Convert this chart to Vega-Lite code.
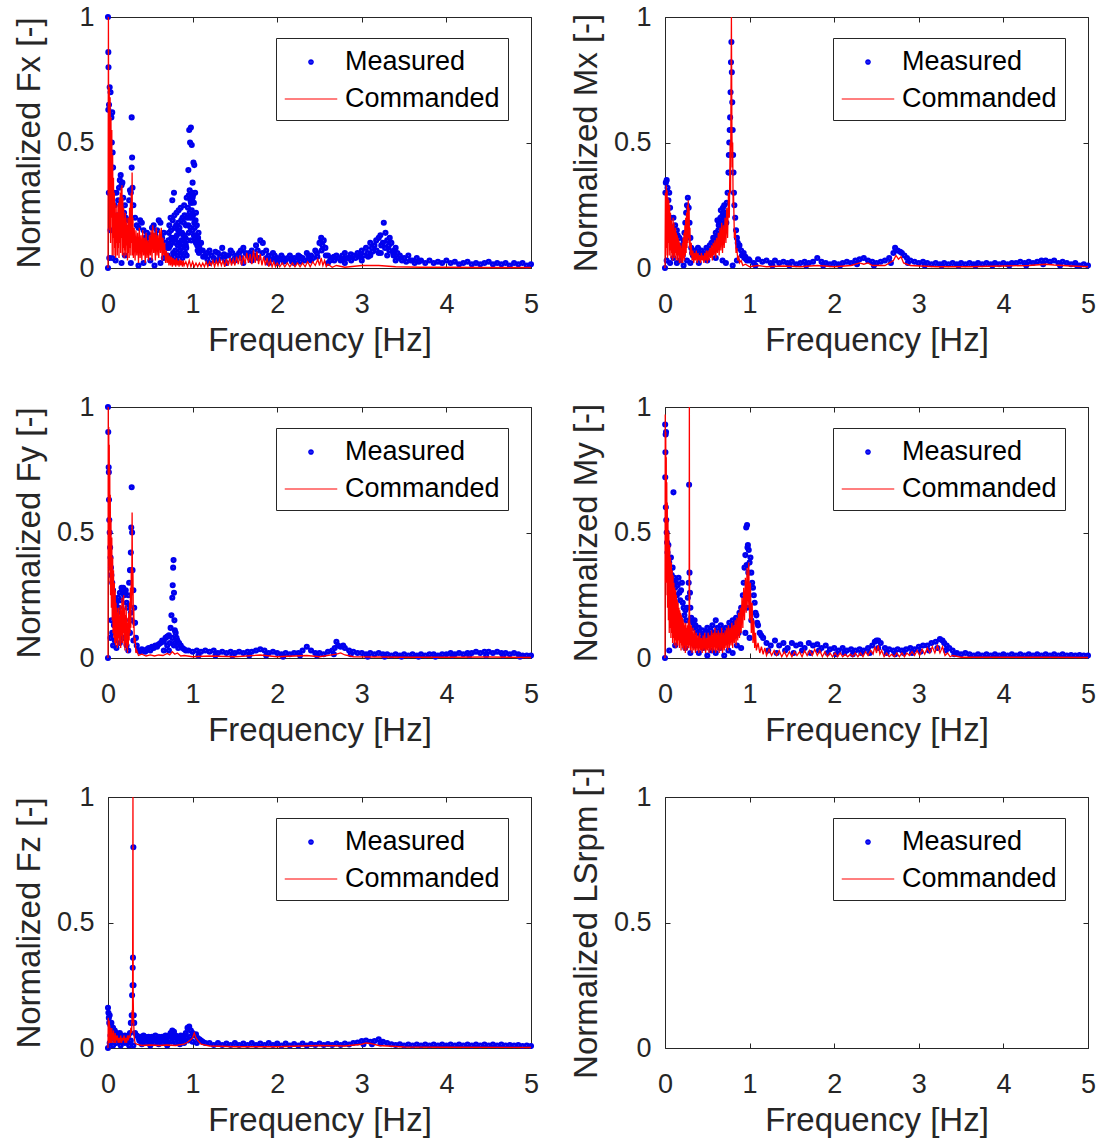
{
"$schema": "https://vega.github.io/schema/vega-lite/v6.json",
"background": "#ffffff",
"padding": {"left": 12, "top": 2, "right": 4, "bottom": 4},
"columns": 2,
"spacing": {"row": 139, "column": 134},
"bounds": "flush",
"resolve": {"scale": {"color": "independent", "shape": "independent"}, "legend": {"color": "independent", "shape": "independent"}},
"config": {
  "font": "Liberation Sans",
  "view": {"stroke": "#262626", "strokeWidth": 1},
  "axis": {"grid": false, "domain": false, "ticks": true, "tickSize": -5, "tickColor": "#262626", "tickWidth": 1, "labelColor": "#262626", "titleColor": "#262626", "labelFont": "Liberation Sans", "titleFont": "Liberation Sans", "labelFontSize": 27, "titleFontSize": 33, "titleFontWeight": "normal", "labelFlush": false, "labelOverlap": false},
  "axisX": {"labelPadding": 28, "titlePadding": 7, "tickCount": 5},
  "axisY": {"labelPadding": 19, "titlePadding": 10, "tickCount": 2},
  "legend": {"orient": "none", "legendX": 168, "legendY": 21, "padding": 8, "strokeColor": "#262626", "fillColor": "#ffffff", "symbolOffset": 11, "labelOffset": 18, "rowPadding": 8, "symbolSize": 900, "symbolStrokeWidth": 1.2, "symbolOpacity": 1, "labelFont": "Liberation Sans", "labelFontSize": 27, "labelColor": "#000000", "labelLimit": 400, "cornerRadius": 0}
},
"datasets": {
"fxm": [{"f":0,"v":0},{"f":0,"v":1},{"f":0.004,"v":0.86},{"f":0.006,"v":0.8},{"f":0.004,"v":0.63},{"f":0.012,"v":0.65},{"f":0.02,"v":0.72},{"f":0.03,"v":0.7},{"f":0.04,"v":0.6},{"f":0.05,"v":0.62},{"f":0.045,"v":0.5},{"f":0.055,"v":0.46},{"f":0.06,"v":0.4},{"f":0.01,"v":0.3},{"f":0.015,"v":0.04},{"f":0.03,"v":0.15},{"f":0.07,"v":0.3},{"f":0.08,"v":0.25},{"f":0.09,"v":0.18},{"f":0.1,"v":0.3},{"f":0.11,"v":0.21},{"f":0.12,"v":0.27},{"f":0.13,"v":0.32},{"f":0.14,"v":0.35},{"f":0.15,"v":0.37},{"f":0.16,"v":0.33},{"f":0.17,"v":0.34},{"f":0.18,"v":0.28},{"f":0.19,"v":0.22},{"f":0.2,"v":0.25},{"f":0.21,"v":0.2},{"f":0.22,"v":0.16},{"f":0.23,"v":0.14},{"f":0.24,"v":0.19},{"f":0.25,"v":0.27},{"f":0.26,"v":0.31},{"f":0.27,"v":0.3},{"f":0.28,"v":0.6},{"f":0.285,"v":0.44},{"f":0.28,"v":0.4},{"f":0.29,"v":0.32},{"f":0.3,"v":0.25},{"f":0.05,"v":0.04},{"f":0.09,"v":0.03},{"f":0.16,"v":0.02},{"f":0.2,"v":0.05},{"f":0.27,"v":0.02},{"f":0.32,"v":0.2},{"f":0.34,"v":0.17},{"f":0.36,"v":0.16},{"f":0.38,"v":0.19},{"f":0.4,"v":0.18},{"f":0.42,"v":0.15},{"f":0.44,"v":0.12},{"f":0.46,"v":0.14},{"f":0.48,"v":0.11},{"f":0.5,"v":0.13},{"f":0.52,"v":0.16},{"f":0.54,"v":0.17},{"f":0.56,"v":0.13},{"f":0.58,"v":0.15},{"f":0.6,"v":0.19},{"f":0.62,"v":0.18},{"f":0.64,"v":0.12},{"f":0.66,"v":0.14},{"f":0.68,"v":0.1},{"f":0.36,"v":0.01},{"f":0.42,"v":0.02},{"f":0.5,"v":0.03},{"f":0.55,"v":0.01},{"f":0.62,"v":0.02},{"f":0.66,"v":0.04},{"f":0.7,"v":0.08},{"f":0.72,"v":0.14},{"f":0.74,"v":0.2},{"f":0.75,"v":0.1},{"f":0.76,"v":0.27},{"f":0.77,"v":0.06},{"f":0.78,"v":0.3},{"f":0.79,"v":0.16},{"f":0.8,"v":0.12},{"f":0.81,"v":0.22},{"f":0.82,"v":0.05},{"f":0.83,"v":0.18},{"f":0.84,"v":0.1},{"f":0.85,"v":0.14},{"f":0.86,"v":0.24},{"f":0.87,"v":0.08},{"f":0.88,"v":0.2},{"f":0.89,"v":0.13},{"f":0.9,"v":0.25},{"f":0.91,"v":0.06},{"f":0.92,"v":0.17},{"f":0.93,"v":0.28},{"f":0.94,"v":0.11},{"f":0.95,"v":0.39},{"f":0.955,"v":0.29},{"f":0.96,"v":0.55},{"f":0.965,"v":0.22},{"f":0.97,"v":0.5},{"f":0.975,"v":0.16},{"f":0.98,"v":0.56},{"f":0.985,"v":0.26},{"f":0.99,"v":0.49},{"f":0.995,"v":0.2},{"f":1,"v":0.34},{"f":1.005,"v":0.29},{"f":1.01,"v":0.42},{"f":1.015,"v":0.13},{"f":1.02,"v":0.41},{"f":1.03,"v":0.3},{"f":1.04,"v":0.22},{"f":1.05,"v":0.17},{"f":1.06,"v":0.11},{"f":1.07,"v":0.14},{"f":1.08,"v":0.08},{"f":1.1,"v":0.1},{"f":1.12,"v":0.07},{"f":0.72,"v":0.08},{"f":0.75,"v":0.12},{"f":0.78,"v":0.06},{"f":0.8,"v":0.1},{"f":0.83,"v":0.15},{"f":0.85,"v":0.07},{"f":0.87,"v":0.11},{"f":0.9,"v":0.13},{"f":0.92,"v":0.09},{"f":0.95,"v":0.17},{"f":0.97,"v":0.2},{"f":0.99,"v":0.23},{"f":1,"v":0.15},{"f":1.02,"v":0.18},{"f":1.04,"v":0.1},{"f":1.06,"v":0.07},{"f":0.93,"v":0.05},{"f":0.88,"v":0.04},{"f":0.81,"v":0.03},{"f":1,"v":0.28},{"f":0.98,"v":0.26},{"f":1.03,"v":0.12},{"f":0.705,"v":0.05},{"f":0.715,"v":0.11},{"f":0.725,"v":0.17},{"f":0.735,"v":0.09},{"f":0.745,"v":0.15},{"f":0.755,"v":0.04},{"f":0.765,"v":0.19},{"f":0.775,"v":0.12},{"f":0.785,"v":0.21},{"f":0.795,"v":0.07},{"f":0.805,"v":0.17},{"f":0.815,"v":0.13},{"f":0.825,"v":0.09},{"f":0.835,"v":0.23},{"f":0.845,"v":0.16},{"f":0.855,"v":0.05},{"f":0.865,"v":0.19},{"f":0.875,"v":0.14},{"f":0.885,"v":0.1},{"f":0.895,"v":0.18},{"f":0.905,"v":0.21},{"f":0.915,"v":0.12},{"f":0.925,"v":0.08},{"f":0.935,"v":0.2},{"f":0.945,"v":0.24},{"f":0.955,"v":0.14},{"f":0.965,"v":0.31},{"f":0.975,"v":0.27},{"f":0.985,"v":0.11},{"f":0.995,"v":0.3},{"f":1.005,"v":0.21},{"f":1.015,"v":0.26},{"f":1.025,"v":0.16},{"f":1.035,"v":0.19},{"f":1.045,"v":0.13},{"f":1.055,"v":0.09},{"f":1.065,"v":0.12},{"f":1.075,"v":0.06},{"f":1.085,"v":0.1},{"f":1.095,"v":0.07},{"f":1.15,"v":0.05},{"f":1.2,"v":0.07},{"f":1.25,"v":0.04},{"f":1.3,"v":0.06},{"f":1.35,"v":0.08},{"f":1.4,"v":0.05},{"f":1.45,"v":0.07},{"f":1.5,"v":0.04},{"f":1.55,"v":0.06},{"f":1.6,"v":0.08},{"f":1.65,"v":0.05},{"f":1.7,"v":0.07},{"f":1.75,"v":0.09},{"f":1.8,"v":0.11},{"f":1.83,"v":0.1},{"f":1.87,"v":0.07},{"f":1.9,"v":0.05},{"f":1.95,"v":0.06},{"f":2,"v":0.04},{"f":2.05,"v":0.05},{"f":2.1,"v":0.03},{"f":2.15,"v":0.05},{"f":2.2,"v":0.04},{"f":2.25,"v":0.05},{"f":2.3,"v":0.04},{"f":2.35,"v":0.06},{"f":2.4,"v":0.05},{"f":2.45,"v":0.07},{"f":2.5,"v":0.1},{"f":2.52,"v":0.12},{"f":2.55,"v":0.11},{"f":2.57,"v":0.08},{"f":2.6,"v":0.05},{"f":2.65,"v":0.04},{"f":2.7,"v":0.05},{"f":2.75,"v":0.03},{"f":2.8,"v":0.06},{"f":2.85,"v":0.04},{"f":2.9,"v":0.05},{"f":2.95,"v":0.06},{"f":3,"v":0.07},{"f":3.05,"v":0.08},{"f":3.1,"v":0.1},{"f":3.15,"v":0.09},{"f":3.2,"v":0.12},{"f":3.22,"v":0.13},{"f":3.25,"v":0.1},{"f":3.26,"v":0.18},{"f":3.28,"v":0.14},{"f":3.3,"v":0.11},{"f":3.32,"v":0.09},{"f":3.35,"v":0.1},{"f":3.38,"v":0.07},{"f":3.4,"v":0.08},{"f":3.45,"v":0.05},{"f":3.5,"v":0.04},{"f":3.55,"v":0.05},{"f":3.6,"v":0.03},{"f":3.65,"v":0.04},{"f":3.7,"v":0.03},{"f":3.75,"v":0.02},{"f":3.8,"v":0.03},{"f":3.85,"v":0.02},{"f":3.9,"v":0.025},{"f":3.95,"v":0.02},{"f":4,"v":0.03},{"f":4.05,"v":0.02},{"f":4.1,"v":0.025},{"f":4.15,"v":0.015},{"f":4.2,"v":0.02},{"f":4.25,"v":0.025},{"f":4.3,"v":0.015},{"f":4.35,"v":0.02},{"f":4.4,"v":0.015},{"f":4.45,"v":0.02},{"f":4.5,"v":0.025},{"f":4.55,"v":0.015},{"f":4.6,"v":0.02},{"f":4.65,"v":0.015},{"f":4.7,"v":0.02},{"f":4.75,"v":0.01},{"f":4.8,"v":0.02},{"f":4.85,"v":0.015},{"f":4.9,"v":0.02},{"f":4.95,"v":0.01},{"f":5,"v":0.015},{"f":1.2,"v":0.02},{"f":1.3,"v":0.03},{"f":1.4,"v":0.02},{"f":1.5,"v":0.03},{"f":1.6,"v":0.02},{"f":1.7,"v":0.03},{"f":1.9,"v":0.02},{"f":2,"v":0.02},{"f":2.2,"v":0.02},{"f":2.4,"v":0.03},{"f":2.6,"v":0.02},{"f":2.8,"v":0.02},{"f":3,"v":0.03},{"f":3.1,"v":0.05},{"f":3.2,"v":0.06},{"f":3.3,"v":0.05},{"f":3.4,"v":0.03},{"f":1.17,"v":0.06},{"f":1.27,"v":0.065},{"f":1.37,"v":0.055},{"f":1.47,"v":0.06},{"f":1.57,"v":0.07},{"f":1.67,"v":0.06},{"f":1.77,"v":0.07},{"f":1.97,"v":0.05},{"f":2.07,"v":0.04},{"f":2.17,"v":0.035},{"f":2.27,"v":0.045},{"f":2.37,"v":0.05},{"f":2.47,"v":0.06},{"f":2.67,"v":0.045},{"f":2.77,"v":0.05},{"f":2.87,"v":0.055},{"f":2.97,"v":0.045},{"f":3.07,"v":0.06},{"f":3.12,"v":0.08},{"f":3.17,"v":0.11},{"f":3.23,"v":0.09},{"f":3.33,"v":0.12},{"f":3.37,"v":0.06},{"f":3.42,"v":0.06},{"f":1.125,"v":0.045},{"f":1.175,"v":0.035},{"f":1.225,"v":0.05},{"f":1.275,"v":0.03},{"f":1.325,"v":0.045},{"f":1.375,"v":0.035},{"f":1.425,"v":0.05},{"f":1.475,"v":0.03},{"f":1.525,"v":0.05},{"f":1.575,"v":0.04},{"f":1.625,"v":0.06},{"f":1.675,"v":0.04},{"f":1.725,"v":0.05},{"f":1.775,"v":0.04},{"f":1.825,"v":0.06},{"f":1.875,"v":0.04},{"f":1.925,"v":0.035},{"f":1.975,"v":0.03},{"f":2.025,"v":0.035},{"f":2.075,"v":0.025},{"f":2.125,"v":0.04},{"f":2.175,"v":0.025},{"f":2.225,"v":0.03},{"f":2.275,"v":0.025},{"f":2.325,"v":0.03},{"f":2.375,"v":0.035},{"f":2.425,"v":0.04},{"f":2.475,"v":0.045},{"f":2.525,"v":0.07},{"f":2.535,"v":0.09},{"f":2.575,"v":0.05},{"f":2.625,"v":0.03},{"f":2.675,"v":0.03},{"f":2.725,"v":0.04},{"f":2.775,"v":0.035},{"f":2.825,"v":0.04},{"f":2.875,"v":0.03},{"f":2.925,"v":0.04},{"f":2.975,"v":0.05},{"f":3.025,"v":0.05},{"f":3.075,"v":0.045},{"f":3.125,"v":0.065},{"f":3.175,"v":0.07},{"f":3.225,"v":0.06},{"f":3.275,"v":0.08},{"f":3.325,"v":0.07},{"f":3.375,"v":0.05},{"f":3.425,"v":0.04},{"f":3.475,"v":0.03},{"f":3.525,"v":0.025},{"f":3.575,"v":0.03},{"f":3.625,"v":0.02},{"f":3.675,"v":0.025}],
"fxc": [{"f":0,"v":0},{"f":0.005,"v":1},{"f":0.01,"v":0.3},{"f":0.015,"v":0.72},{"f":0.02,"v":0.15},{"f":0.025,"v":0.68},{"f":0.03,"v":0.1},{"f":0.035,"v":0.6},{"f":0.04,"v":0.2},{"f":0.045,"v":0.55},{"f":0.05,"v":0.05},{"f":0.055,"v":0.45},{"f":0.06,"v":0.12},{"f":0.065,"v":0.36},{"f":0.07,"v":0.05},{"f":0.075,"v":0.3},{"f":0.08,"v":0.08},{"f":0.085,"v":0.26},{"f":0.09,"v":0.04},{"f":0.095,"v":0.22},{"f":0.1,"v":0.1},{"f":0.105,"v":0.25},{"f":0.11,"v":0.05},{"f":0.115,"v":0.22},{"f":0.12,"v":0.08},{"f":0.125,"v":0.26},{"f":0.13,"v":0.04},{"f":0.135,"v":0.28},{"f":0.14,"v":0.1},{"f":0.145,"v":0.3},{"f":0.15,"v":0.06},{"f":0.155,"v":0.32},{"f":0.16,"v":0.12},{"f":0.165,"v":0.33},{"f":0.17,"v":0.05},{"f":0.175,"v":0.28},{"f":0.18,"v":0.08},{"f":0.185,"v":0.24},{"f":0.19,"v":0.04},{"f":0.195,"v":0.2},{"f":0.2,"v":0.07},{"f":0.205,"v":0.22},{"f":0.21,"v":0.05},{"f":0.215,"v":0.18},{"f":0.22,"v":0.09},{"f":0.225,"v":0.2},{"f":0.23,"v":0.03},{"f":0.235,"v":0.17},{"f":0.24,"v":0.06},{"f":0.245,"v":0.2},{"f":0.25,"v":0.04},{"f":0.255,"v":0.24},{"f":0.26,"v":0.08},{"f":0.265,"v":0.26},{"f":0.27,"v":0.05},{"f":0.275,"v":0.3},{"f":0.28,"v":0.1},{"f":0.285,"v":0.38},{"f":0.29,"v":0.05},{"f":0.295,"v":0.2},{"f":0.3,"v":0.04},{"f":0.31,"v":0.16},{"f":0.32,"v":0.03},{"f":0.33,"v":0.15},{"f":0.34,"v":0.05},{"f":0.35,"v":0.14},{"f":0.36,"v":0.02},{"f":0.37,"v":0.16},{"f":0.38,"v":0.04},{"f":0.39,"v":0.13},{"f":0.4,"v":0.03},{"f":0.41,"v":0.15},{"f":0.42,"v":0.05},{"f":0.43,"v":0.12},{"f":0.44,"v":0.02},{"f":0.45,"v":0.14},{"f":0.46,"v":0.04},{"f":0.47,"v":0.11},{"f":0.48,"v":0.03},{"f":0.49,"v":0.13},{"f":0.5,"v":0.05},{"f":0.51,"v":0.15},{"f":0.52,"v":0.03},{"f":0.53,"v":0.17},{"f":0.54,"v":0.06},{"f":0.55,"v":0.14},{"f":0.56,"v":0.03},{"f":0.57,"v":0.16},{"f":0.58,"v":0.05},{"f":0.59,"v":0.13},{"f":0.6,"v":0.04},{"f":0.61,"v":0.15},{"f":0.62,"v":0.06},{"f":0.63,"v":0.16},{"f":0.64,"v":0.03},{"f":0.65,"v":0.12},{"f":0.66,"v":0.05},{"f":0.67,"v":0.1},{"f":0.68,"v":0.02},{"f":0.69,"v":0.07},{"f":0.7,"v":0.02},{"f":0.71,"v":0.06},{"f":0.72,"v":0.01},{"f":0.73,"v":0.05},{"f":0.74,"v":0.01},{"f":0.75,"v":0.045},{"f":0.76,"v":0.005},{"f":0.77,"v":0.04},{"f":0.78,"v":0.01},{"f":0.79,"v":0.035},{"f":0.8,"v":0.005},{"f":0.81,"v":0.04},{"f":0.82,"v":0.01},{"f":0.83,"v":0.03},{"f":0.84,"v":0.005},{"f":0.85,"v":0.035},{"f":0.86,"v":0.01},{"f":0.87,"v":0.03},{"f":0.88,"v":0.005},{"f":0.89,"v":0.03},{"f":0.9,"v":0.01},{"f":0.92,"v":0.025},{"f":0.94,"v":0.005},{"f":0.96,"v":0.03},{"f":0.98,"v":0.005},{"f":1,"v":0.025},{"f":1.02,"v":0.005},{"f":1.04,"v":0.02},{"f":1.06,"v":0.005},{"f":1.08,"v":0.02},{"f":1.1,"v":0.005},{"f":1.12,"v":0.02},{"f":1.14,"v":0.005},{"f":1.16,"v":0.025},{"f":1.18,"v":0.005},{"f":1.2,"v":0.025},{"f":1.22,"v":0.01},{"f":1.24,"v":0.03},{"f":1.26,"v":0.005},{"f":1.28,"v":0.03},{"f":1.3,"v":0.01},{"f":1.32,"v":0.035},{"f":1.34,"v":0.01},{"f":1.36,"v":0.03},{"f":1.38,"v":0.005},{"f":1.4,"v":0.035},{"f":1.42,"v":0.01},{"f":1.44,"v":0.04},{"f":1.46,"v":0.01},{"f":1.48,"v":0.035},{"f":1.5,"v":0.01},{"f":1.52,"v":0.045},{"f":1.54,"v":0.015},{"f":1.56,"v":0.05},{"f":1.58,"v":0.01},{"f":1.6,"v":0.05},{"f":1.62,"v":0.015},{"f":1.64,"v":0.06},{"f":1.66,"v":0.02},{"f":1.68,"v":0.055},{"f":1.7,"v":0.015},{"f":1.72,"v":0.07},{"f":1.74,"v":0.02},{"f":1.76,"v":0.065},{"f":1.78,"v":0.015},{"f":1.8,"v":0.055},{"f":1.82,"v":0.01},{"f":1.84,"v":0.045},{"f":1.86,"v":0.01},{"f":1.88,"v":0.04},{"f":1.9,"v":0.005},{"f":1.92,"v":0.03},{"f":1.94,"v":0.005},{"f":1.96,"v":0.025},{"f":1.98,"v":0.005},{"f":2,"v":0.02},{"f":2.03,"v":0.005},{"f":2.06,"v":0.02},{"f":2.09,"v":0.005},{"f":2.12,"v":0.02},{"f":2.15,"v":0.005},{"f":2.18,"v":0.02},{"f":2.21,"v":0.005},{"f":2.24,"v":0.02},{"f":2.27,"v":0.005},{"f":2.3,"v":0.02},{"f":2.33,"v":0.005},{"f":2.36,"v":0.025},{"f":2.39,"v":0.005},{"f":2.42,"v":0.025},{"f":2.45,"v":0.01},{"f":2.48,"v":0.035},{"f":2.5,"v":0.01},{"f":2.52,"v":0.04},{"f":2.54,"v":0.01},{"f":2.56,"v":0.03},{"f":2.58,"v":0.005},{"f":2.6,"v":0.015},{"f":2.65,"v":0.003},{"f":2.7,"v":0.01},{"f":2.8,"v":0.003},{"f":3,"v":0.01},{"f":3.2,"v":0.01},{"f":3.4,"v":0.005},{"f":3.7,"v":0.003},{"f":4,"v":0.003},{"f":4.5,"v":0.002},{"f":5,"v":0.002}],
"mxm": [{"f":0,"v":0},{"f":0.005,"v":0.3},{"f":0.01,"v":0.34},{"f":0.02,"v":0.35},{"f":0.03,"v":0.32},{"f":0.04,"v":0.27},{"f":0.05,"v":0.3},{"f":0.06,"v":0.24},{"f":0.07,"v":0.2},{"f":0.08,"v":0.16},{"f":0.09,"v":0.14},{"f":0.1,"v":0.2},{"f":0.11,"v":0.12},{"f":0.12,"v":0.17},{"f":0.13,"v":0.1},{"f":0.14,"v":0.15},{"f":0.15,"v":0.13},{"f":0.16,"v":0.09},{"f":0.17,"v":0.12},{"f":0.18,"v":0.08},{"f":0.19,"v":0.06},{"f":0.2,"v":0.09},{"f":0.21,"v":0.05},{"f":0.22,"v":0.11},{"f":0.23,"v":0.14},{"f":0.24,"v":0.18},{"f":0.25,"v":0.22},{"f":0.26,"v":0.25},{"f":0.27,"v":0.28},{"f":0.28,"v":0.24},{"f":0.29,"v":0.18},{"f":0.3,"v":0.12},{"f":0.31,"v":0.08},{"f":0.32,"v":0.06},{"f":0.02,"v":0.03},{"f":0.06,"v":0.02},{"f":0.1,"v":0.04},{"f":0.14,"v":0.02},{"f":0.18,"v":0.03},{"f":0.22,"v":0.01},{"f":0.26,"v":0.03},{"f":0.3,"v":0.02},{"f":0.33,"v":0.05},{"f":0.35,"v":0.07},{"f":0.37,"v":0.06},{"f":0.39,"v":0.08},{"f":0.41,"v":0.05},{"f":0.43,"v":0.07},{"f":0.45,"v":0.06},{"f":0.47,"v":0.05},{"f":0.49,"v":0.08},{"f":0.51,"v":0.07},{"f":0.53,"v":0.09},{"f":0.55,"v":0.1},{"f":0.57,"v":0.12},{"f":0.59,"v":0.11},{"f":0.6,"v":0.14},{"f":0.61,"v":0.1},{"f":0.62,"v":0.19},{"f":0.63,"v":0.15},{"f":0.64,"v":0.18},{"f":0.65,"v":0.13},{"f":0.66,"v":0.23},{"f":0.67,"v":0.17},{"f":0.68,"v":0.21},{"f":0.69,"v":0.14},{"f":0.7,"v":0.25},{"f":0.71,"v":0.18},{"f":0.72,"v":0.22},{"f":0.73,"v":0.26},{"f":0.74,"v":0.3},{"f":0.75,"v":0.38},{"f":0.755,"v":0.45},{"f":0.76,"v":0.5},{"f":0.765,"v":0.55},{"f":0.77,"v":0.6},{"f":0.775,"v":0.7},{"f":0.78,"v":0.82},{"f":0.785,"v":0.9},{"f":0.79,"v":0.78},{"f":0.795,"v":0.66},{"f":0.8,"v":0.55},{"f":0.805,"v":0.45},{"f":0.81,"v":0.38},{"f":0.815,"v":0.3},{"f":0.82,"v":0.25},{"f":0.83,"v":0.2},{"f":0.84,"v":0.15},{"f":0.85,"v":0.12},{"f":0.86,"v":0.1},{"f":0.87,"v":0.08},{"f":0.88,"v":0.09},{"f":0.9,"v":0.07},{"f":0.92,"v":0.05},{"f":0.94,"v":0.04},{"f":0.96,"v":0.035},{"f":0.4,"v":0.02},{"f":0.5,"v":0.03},{"f":0.6,"v":0.04},{"f":0.68,"v":0.03},{"f":0.72,"v":0.02},{"f":0.8,"v":0.01},{"f":0.85,"v":0.03},{"f":0.605,"v":0.08},{"f":0.615,"v":0.13},{"f":0.625,"v":0.1},{"f":0.635,"v":0.17},{"f":0.645,"v":0.12},{"f":0.655,"v":0.2},{"f":0.665,"v":0.16},{"f":0.675,"v":0.19},{"f":0.685,"v":0.24},{"f":0.695,"v":0.2},{"f":0.705,"v":0.16},{"f":0.715,"v":0.22},{"f":0.725,"v":0.18},{"f":0.91,"v":0.05},{"f":0.93,"v":0.06},{"f":0.95,"v":0.045},{"f":0.97,"v":0.03},{"f":0.99,"v":0.035},{"f":1,"v":0.03},{"f":1.05,"v":0.02},{"f":1.1,"v":0.035},{"f":1.15,"v":0.025},{"f":1.2,"v":0.03},{"f":1.25,"v":0.02},{"f":1.3,"v":0.03},{"f":1.35,"v":0.02},{"f":1.4,"v":0.025},{"f":1.45,"v":0.02},{"f":1.5,"v":0.025},{"f":1.55,"v":0.015},{"f":1.6,"v":0.02},{"f":1.65,"v":0.025},{"f":1.7,"v":0.02},{"f":1.75,"v":0.025},{"f":1.8,"v":0.04},{"f":1.85,"v":0.025},{"f":1.9,"v":0.02},{"f":1.95,"v":0.015},{"f":2,"v":0.02},{"f":2.05,"v":0.015},{"f":2.1,"v":0.02},{"f":2.15,"v":0.025},{"f":2.2,"v":0.02},{"f":2.25,"v":0.03},{"f":2.3,"v":0.035},{"f":2.35,"v":0.04},{"f":2.4,"v":0.03},{"f":2.45,"v":0.025},{"f":2.5,"v":0.02},{"f":2.55,"v":0.025},{"f":2.6,"v":0.03},{"f":2.65,"v":0.04},{"f":2.7,"v":0.06},{"f":2.72,"v":0.08},{"f":2.75,"v":0.07},{"f":2.78,"v":0.065},{"f":2.8,"v":0.06},{"f":2.83,"v":0.05},{"f":2.86,"v":0.04},{"f":2.9,"v":0.03},{"f":2.95,"v":0.025},{"f":3,"v":0.02},{"f":3.05,"v":0.025},{"f":3.1,"v":0.02},{"f":3.15,"v":0.015},{"f":3.2,"v":0.02},{"f":3.25,"v":0.015},{"f":3.3,"v":0.02},{"f":3.35,"v":0.015},{"f":3.4,"v":0.02},{"f":3.45,"v":0.015},{"f":3.5,"v":0.02},{"f":3.55,"v":0.015},{"f":3.6,"v":0.02},{"f":3.65,"v":0.015},{"f":3.7,"v":0.02},{"f":3.75,"v":0.015},{"f":3.8,"v":0.02},{"f":3.85,"v":0.015},{"f":3.9,"v":0.02},{"f":3.95,"v":0.015},{"f":4,"v":0.02},{"f":4.05,"v":0.015},{"f":4.1,"v":0.02},{"f":4.15,"v":0.02},{"f":4.2,"v":0.025},{"f":4.25,"v":0.02},{"f":4.3,"v":0.025},{"f":4.35,"v":0.02},{"f":4.4,"v":0.025},{"f":4.45,"v":0.03},{"f":4.5,"v":0.03},{"f":4.55,"v":0.025},{"f":4.6,"v":0.03},{"f":4.65,"v":0.02},{"f":4.7,"v":0.025},{"f":4.75,"v":0.02},{"f":4.8,"v":0.015},{"f":4.85,"v":0.02},{"f":4.9,"v":0.01},{"f":4.95,"v":0.015},{"f":5,"v":0.01},{"f":1.07,"v":0.01},{"f":1.27,"v":0.01},{"f":1.47,"v":0.01},{"f":1.67,"v":0.01},{"f":1.87,"v":0.01},{"f":2.07,"v":0.01},{"f":2.27,"v":0.015},{"f":2.47,"v":0.01},{"f":2.67,"v":0.02},{"f":2.87,"v":0.02},{"f":3.07,"v":0.01},{"f":3.27,"v":0.01},{"f":3.47,"v":0.01},{"f":3.67,"v":0.01},{"f":3.87,"v":0.01},{"f":4.07,"v":0.01},{"f":4.27,"v":0.01},{"f":4.47,"v":0.015},{"f":4.67,"v":0.01},{"f":4.87,"v":0.01}],
"mxc": [{"f":0,"v":0},{"f":0.005,"v":0.3},{"f":0.01,"v":0.05},{"f":0.015,"v":0.33},{"f":0.02,"v":0.08},{"f":0.025,"v":0.31},{"f":0.03,"v":0.04},{"f":0.035,"v":0.28},{"f":0.04,"v":0.1},{"f":0.045,"v":0.27},{"f":0.05,"v":0.05},{"f":0.055,"v":0.25},{"f":0.06,"v":0.07},{"f":0.065,"v":0.22},{"f":0.07,"v":0.04},{"f":0.075,"v":0.19},{"f":0.08,"v":0.06},{"f":0.085,"v":0.17},{"f":0.09,"v":0.03},{"f":0.095,"v":0.2},{"f":0.1,"v":0.05},{"f":0.105,"v":0.18},{"f":0.11,"v":0.04},{"f":0.115,"v":0.15},{"f":0.12,"v":0.06},{"f":0.125,"v":0.16},{"f":0.13,"v":0.03},{"f":0.135,"v":0.14},{"f":0.14,"v":0.05},{"f":0.145,"v":0.13},{"f":0.15,"v":0.03},{"f":0.155,"v":0.12},{"f":0.16,"v":0.05},{"f":0.165,"v":0.11},{"f":0.17,"v":0.02},{"f":0.175,"v":0.1},{"f":0.18,"v":0.04},{"f":0.185,"v":0.09},{"f":0.19,"v":0.02},{"f":0.195,"v":0.08},{"f":0.2,"v":0.03},{"f":0.205,"v":0.1},{"f":0.21,"v":0.02},{"f":0.215,"v":0.12},{"f":0.22,"v":0.04},{"f":0.225,"v":0.14},{"f":0.23,"v":0.03},{"f":0.235,"v":0.17},{"f":0.24,"v":0.05},{"f":0.245,"v":0.2},{"f":0.25,"v":0.06},{"f":0.255,"v":0.22},{"f":0.26,"v":0.08},{"f":0.265,"v":0.25},{"f":0.27,"v":0.1},{"f":0.275,"v":0.27},{"f":0.28,"v":0.12},{"f":0.285,"v":0.24},{"f":0.29,"v":0.08},{"f":0.295,"v":0.16},{"f":0.3,"v":0.05},{"f":0.31,"v":0.1},{"f":0.32,"v":0.03},{"f":0.33,"v":0.07},{"f":0.34,"v":0.02},{"f":0.35,"v":0.06},{"f":0.36,"v":0.03},{"f":0.37,"v":0.07},{"f":0.38,"v":0.02},{"f":0.39,"v":0.06},{"f":0.4,"v":0.03},{"f":0.41,"v":0.05},{"f":0.42,"v":0.02},{"f":0.43,"v":0.06},{"f":0.44,"v":0.03},{"f":0.45,"v":0.05},{"f":0.46,"v":0.02},{"f":0.47,"v":0.06},{"f":0.48,"v":0.03},{"f":0.49,"v":0.07},{"f":0.5,"v":0.02},{"f":0.51,"v":0.07},{"f":0.52,"v":0.03},{"f":0.53,"v":0.08},{"f":0.54,"v":0.04},{"f":0.55,"v":0.09},{"f":0.56,"v":0.03},{"f":0.57,"v":0.1},{"f":0.58,"v":0.05},{"f":0.59,"v":0.11},{"f":0.6,"v":0.04},{"f":0.61,"v":0.12},{"f":0.62,"v":0.06},{"f":0.63,"v":0.14},{"f":0.64,"v":0.05},{"f":0.65,"v":0.16},{"f":0.66,"v":0.07},{"f":0.67,"v":0.18},{"f":0.68,"v":0.06},{"f":0.69,"v":0.17},{"f":0.7,"v":0.08},{"f":0.71,"v":0.2},{"f":0.72,"v":0.1},{"f":0.73,"v":0.24},{"f":0.74,"v":0.12},{"f":0.75,"v":0.3},{"f":0.76,"v":0.2},{"f":0.77,"v":0.5},{"f":0.775,"v":0.3},{"f":0.78,"v":0.7},{"f":0.785,"v":1},{"f":0.79,"v":0.6},{"f":0.795,"v":0.4},{"f":0.8,"v":0.5},{"f":0.805,"v":0.25},{"f":0.81,"v":0.3},{"f":0.82,"v":0.12},{"f":0.83,"v":0.15},{"f":0.84,"v":0.06},{"f":0.85,"v":0.08},{"f":0.86,"v":0.03},{"f":0.87,"v":0.05},{"f":0.88,"v":0.02},{"f":0.9,"v":0.03},{"f":0.92,"v":0.01},{"f":0.95,"v":0.015},{"f":1,"v":0.005},{"f":1.1,"v":0.01},{"f":1.2,"v":0.005},{"f":1.4,"v":0.008},{"f":1.6,"v":0.005},{"f":1.8,"v":0.01},{"f":2,"v":0.005},{"f":2.2,"v":0.01},{"f":2.3,"v":0.02},{"f":2.35,"v":0.015},{"f":2.4,"v":0.02},{"f":2.45,"v":0.01},{"f":2.6,"v":0.01},{"f":2.7,"v":0.03},{"f":2.73,"v":0.05},{"f":2.76,"v":0.035},{"f":2.79,"v":0.045},{"f":2.82,"v":0.02},{"f":2.9,"v":0.01},{"f":3.2,"v":0.005},{"f":3.6,"v":0.005},{"f":4,"v":0.008},{"f":4.3,"v":0.01},{"f":4.5,"v":0.015},{"f":4.6,"v":0.012},{"f":4.8,"v":0.008},{"f":5,"v":0.005}],
"fym": [{"f":0,"v":0},{"f":0,"v":1},{"f":0.003,"v":0.9},{"f":0.008,"v":0.76},{"f":0.01,"v":0.74},{"f":0.012,"v":0.63},{"f":0.015,"v":0.55},{"f":0.02,"v":0.5},{"f":0.025,"v":0.44},{"f":0.03,"v":0.4},{"f":0.035,"v":0.36},{"f":0.04,"v":0.33},{"f":0.05,"v":0.3},{"f":0.06,"v":0.27},{"f":0.07,"v":0.24},{"f":0.08,"v":0.22},{"f":0.09,"v":0.2},{"f":0.1,"v":0.22},{"f":0.11,"v":0.18},{"f":0.12,"v":0.24},{"f":0.13,"v":0.2},{"f":0.14,"v":0.26},{"f":0.15,"v":0.23},{"f":0.16,"v":0.28},{"f":0.17,"v":0.27},{"f":0.18,"v":0.28},{"f":0.19,"v":0.25},{"f":0.2,"v":0.26},{"f":0.21,"v":0.27},{"f":0.22,"v":0.22},{"f":0.23,"v":0.2},{"f":0.24,"v":0.25},{"f":0.25,"v":0.3},{"f":0.26,"v":0.35},{"f":0.27,"v":0.42},{"f":0.275,"v":0.52},{"f":0.28,"v":0.68},{"f":0.285,"v":0.5},{"f":0.29,"v":0.35},{"f":0.3,"v":0.27},{"f":0.31,"v":0.2},{"f":0.32,"v":0.14},{"f":0.33,"v":0.08},{"f":0.34,"v":0.05},{"f":0.03,"v":0.08},{"f":0.05,"v":0.1},{"f":0.06,"v":0.05},{"f":0.08,"v":0.07},{"f":0.1,"v":0.04},{"f":0.12,"v":0.1},{"f":0.14,"v":0.06},{"f":0.16,"v":0.12},{"f":0.18,"v":0.08},{"f":0.2,"v":0.15},{"f":0.22,"v":0.05},{"f":0.24,"v":0.03},{"f":0.26,"v":0.1},{"f":0.28,"v":0.15},{"f":0.3,"v":0.07},{"f":0.04,"v":0.15},{"f":0.07,"v":0.13},{"f":0.11,"v":0.09},{"f":0.15,"v":0.14},{"f":0.19,"v":0.16},{"f":0.23,"v":0.11},{"f":0.27,"v":0.18},{"f":0.36,"v":0.03},{"f":0.38,"v":0.025},{"f":0.4,"v":0.035},{"f":0.42,"v":0.03},{"f":0.44,"v":0.025},{"f":0.46,"v":0.035},{"f":0.48,"v":0.04},{"f":0.5,"v":0.03},{"f":0.52,"v":0.045},{"f":0.54,"v":0.04},{"f":0.56,"v":0.05},{"f":0.58,"v":0.045},{"f":0.6,"v":0.055},{"f":0.62,"v":0.06},{"f":0.64,"v":0.07},{"f":0.66,"v":0.065},{"f":0.68,"v":0.08},{"f":0.7,"v":0.085},{"f":0.72,"v":0.09},{"f":0.74,"v":0.12},{"f":0.75,"v":0.17},{"f":0.76,"v":0.24},{"f":0.765,"v":0.29},{"f":0.77,"v":0.36},{"f":0.775,"v":0.39},{"f":0.78,"v":0.26},{"f":0.785,"v":0.15},{"f":0.79,"v":0.11},{"f":0.8,"v":0.1},{"f":0.81,"v":0.08},{"f":0.82,"v":0.07},{"f":0.84,"v":0.06},{"f":0.86,"v":0.05},{"f":0.88,"v":0.04},{"f":0.9,"v":0.035},{"f":0.92,"v":0.03},{"f":0.95,"v":0.03},{"f":0.66,"v":0.03},{"f":0.7,"v":0.05},{"f":0.73,"v":0.06},{"f":0.76,"v":0.08},{"f":0.79,"v":0.06},{"f":0.83,"v":0.04},{"f":0.72,"v":0.03},{"f":0.78,"v":0.05},{"f":1,"v":0.025},{"f":1.05,"v":0.03},{"f":1.1,"v":0.025},{"f":1.15,"v":0.03},{"f":1.2,"v":0.025},{"f":1.25,"v":0.03},{"f":1.3,"v":0.02},{"f":1.35,"v":0.025},{"f":1.4,"v":0.02},{"f":1.45,"v":0.025},{"f":1.5,"v":0.02},{"f":1.55,"v":0.025},{"f":1.6,"v":0.02},{"f":1.65,"v":0.025},{"f":1.7,"v":0.025},{"f":1.75,"v":0.03},{"f":1.8,"v":0.035},{"f":1.85,"v":0.03},{"f":1.9,"v":0.02},{"f":1.95,"v":0.025},{"f":2,"v":0.02},{"f":2.05,"v":0.015},{"f":2.1,"v":0.02},{"f":2.15,"v":0.015},{"f":2.2,"v":0.02},{"f":2.25,"v":0.02},{"f":2.3,"v":0.03},{"f":2.35,"v":0.045},{"f":2.4,"v":0.03},{"f":2.45,"v":0.02},{"f":2.5,"v":0.02},{"f":2.55,"v":0.015},{"f":2.6,"v":0.025},{"f":2.65,"v":0.03},{"f":2.68,"v":0.04},{"f":2.7,"v":0.065},{"f":2.72,"v":0.05},{"f":2.75,"v":0.045},{"f":2.78,"v":0.05},{"f":2.8,"v":0.04},{"f":2.85,"v":0.03},{"f":2.9,"v":0.025},{"f":2.95,"v":0.02},{"f":3,"v":0.02},{"f":3.05,"v":0.015},{"f":3.1,"v":0.02},{"f":3.15,"v":0.015},{"f":3.2,"v":0.02},{"f":3.25,"v":0.015},{"f":3.3,"v":0.015},{"f":3.35,"v":0.01},{"f":3.4,"v":0.015},{"f":3.45,"v":0.01},{"f":3.5,"v":0.015},{"f":3.55,"v":0.01},{"f":3.6,"v":0.015},{"f":3.65,"v":0.01},{"f":3.7,"v":0.015},{"f":3.75,"v":0.01},{"f":3.8,"v":0.015},{"f":3.85,"v":0.015},{"f":3.9,"v":0.01},{"f":3.95,"v":0.015},{"f":4,"v":0.015},{"f":4.05,"v":0.02},{"f":4.1,"v":0.015},{"f":4.15,"v":0.02},{"f":4.2,"v":0.015},{"f":4.25,"v":0.02},{"f":4.3,"v":0.02},{"f":4.35,"v":0.025},{"f":4.4,"v":0.02},{"f":4.45,"v":0.025},{"f":4.5,"v":0.025},{"f":4.55,"v":0.02},{"f":4.6,"v":0.025},{"f":4.65,"v":0.02},{"f":4.7,"v":0.02},{"f":4.75,"v":0.015},{"f":4.8,"v":0.02},{"f":4.85,"v":0.015},{"f":4.9,"v":0.01},{"f":4.95,"v":0.01},{"f":5,"v":0.01},{"f":1.07,"v":0.01},{"f":1.27,"v":0.01},{"f":1.47,"v":0.01},{"f":1.67,"v":0.01},{"f":1.87,"v":0.01},{"f":2.07,"v":0.005},{"f":2.27,"v":0.01},{"f":2.47,"v":0.01},{"f":2.67,"v":0.015},{"f":2.87,"v":0.015},{"f":3.07,"v":0.005},{"f":3.27,"v":0.005},{"f":3.47,"v":0.005},{"f":3.67,"v":0.005},{"f":3.87,"v":0.005},{"f":4.07,"v":0.01},{"f":4.27,"v":0.01},{"f":4.47,"v":0.01},{"f":4.67,"v":0.01},{"f":4.87,"v":0.005}],
"fyc": [{"f":0,"v":0},{"f":0.003,"v":1},{"f":0.006,"v":0.5},{"f":0.009,"v":0.92},{"f":0.012,"v":0.4},{"f":0.015,"v":0.85},{"f":0.018,"v":0.35},{"f":0.021,"v":0.75},{"f":0.024,"v":0.3},{"f":0.027,"v":0.65},{"f":0.03,"v":0.25},{"f":0.035,"v":0.55},{"f":0.04,"v":0.2},{"f":0.045,"v":0.48},{"f":0.05,"v":0.15},{"f":0.055,"v":0.4},{"f":0.06,"v":0.1},{"f":0.065,"v":0.35},{"f":0.07,"v":0.08},{"f":0.075,"v":0.3},{"f":0.08,"v":0.06},{"f":0.085,"v":0.27},{"f":0.09,"v":0.05},{"f":0.095,"v":0.22},{"f":0.1,"v":0.07},{"f":0.105,"v":0.2},{"f":0.11,"v":0.04},{"f":0.115,"v":0.18},{"f":0.12,"v":0.08},{"f":0.125,"v":0.2},{"f":0.13,"v":0.05},{"f":0.135,"v":0.17},{"f":0.14,"v":0.07},{"f":0.145,"v":0.21},{"f":0.15,"v":0.04},{"f":0.155,"v":0.19},{"f":0.16,"v":0.09},{"f":0.165,"v":0.24},{"f":0.17,"v":0.06},{"f":0.175,"v":0.22},{"f":0.18,"v":0.1},{"f":0.185,"v":0.25},{"f":0.19,"v":0.05},{"f":0.195,"v":0.2},{"f":0.2,"v":0.03},{"f":0.205,"v":0.17},{"f":0.21,"v":0.06},{"f":0.215,"v":0.21},{"f":0.22,"v":0.04},{"f":0.225,"v":0.16},{"f":0.23,"v":0.02},{"f":0.235,"v":0.14},{"f":0.24,"v":0.05},{"f":0.245,"v":0.18},{"f":0.25,"v":0.07},{"f":0.255,"v":0.22},{"f":0.26,"v":0.1},{"f":0.265,"v":0.28},{"f":0.27,"v":0.12},{"f":0.275,"v":0.36},{"f":0.28,"v":0.2},{"f":0.285,"v":0.58},{"f":0.29,"v":0.25},{"f":0.295,"v":0.35},{"f":0.3,"v":0.12},{"f":0.305,"v":0.2},{"f":0.31,"v":0.06},{"f":0.32,"v":0.08},{"f":0.33,"v":0.02},{"f":0.34,"v":0.03},{"f":0.36,"v":0.01},{"f":0.4,"v":0.015},{"f":0.45,"v":0.008},{"f":0.5,"v":0.012},{"f":0.55,"v":0.008},{"f":0.6,"v":0.012},{"f":0.65,"v":0.01},{"f":0.7,"v":0.018},{"f":0.73,"v":0.012},{"f":0.76,"v":0.025},{"f":0.79,"v":0.015},{"f":0.82,"v":0.02},{"f":0.86,"v":0.008},{"f":0.9,"v":0.01},{"f":1,"v":0.005},{"f":1.2,"v":0.008},{"f":1.5,"v":0.005},{"f":1.8,"v":0.012},{"f":2,"v":0.005},{"f":2.35,"v":0.01},{"f":2.5,"v":0.005},{"f":2.7,"v":0.015},{"f":2.75,"v":0.02},{"f":2.8,"v":0.012},{"f":2.9,"v":0.005},{"f":3.5,"v":0.003},{"f":4,"v":0.003},{"f":4.5,"v":0.004},{"f":5,"v":0.002}],
"mym": [{"f":0,"v":0},{"f":0.002,"v":0.93},{"f":0.005,"v":0.82},{"f":0.008,"v":0.89},{"f":0.012,"v":0.9},{"f":0.003,"v":0.72},{"f":0.01,"v":0.6},{"f":0.015,"v":0.55},{"f":0.02,"v":0.5},{"f":0.025,"v":0.46},{"f":0.03,"v":0.42},{"f":0.04,"v":0.45},{"f":0.05,"v":0.38},{"f":0.06,"v":0.35},{"f":0.07,"v":0.4},{"f":0.08,"v":0.33},{"f":0.09,"v":0.36},{"f":0.1,"v":0.66},{"f":0.1,"v":0.3},{"f":0.11,"v":0.32},{"f":0.12,"v":0.28},{"f":0.13,"v":0.3},{"f":0.14,"v":0.25},{"f":0.15,"v":0.29},{"f":0.16,"v":0.32},{"f":0.17,"v":0.26},{"f":0.18,"v":0.23},{"f":0.19,"v":0.27},{"f":0.2,"v":0.3},{"f":0.21,"v":0.22},{"f":0.22,"v":0.2},{"f":0.23,"v":0.17},{"f":0.24,"v":0.19},{"f":0.25,"v":0.15},{"f":0.26,"v":0.2},{"f":0.27,"v":0.24},{"f":0.28,"v":0.3},{"f":0.285,"v":0.69},{"f":0.29,"v":0.34},{"f":0.295,"v":0.26},{"f":0.3,"v":0.2},{"f":0.31,"v":0.16},{"f":0.32,"v":0.15},{"f":0.33,"v":0.14},{"f":0.34,"v":0.12},{"f":0.35,"v":0.15},{"f":0.36,"v":0.13},{"f":0.38,"v":0.1},{"f":0.4,"v":0.12},{"f":0.42,"v":0.09},{"f":0.44,"v":0.11},{"f":0.46,"v":0.08},{"f":0.48,"v":0.1},{"f":0.5,"v":0.12},{"f":0.52,"v":0.09},{"f":0.54,"v":0.11},{"f":0.56,"v":0.13},{"f":0.58,"v":0.1},{"f":0.6,"v":0.15},{"f":0.62,"v":0.12},{"f":0.64,"v":0.1},{"f":0.66,"v":0.13},{"f":0.68,"v":0.11},{"f":0.7,"v":0.09},{"f":0.72,"v":0.12},{"f":0.74,"v":0.1},{"f":0.76,"v":0.14},{"f":0.78,"v":0.12},{"f":0.8,"v":0.15},{"f":0.82,"v":0.13},{"f":0.84,"v":0.16},{"f":0.86,"v":0.14},{"f":0.88,"v":0.18},{"f":0.9,"v":0.2},{"f":0.92,"v":0.25},{"f":0.93,"v":0.3},{"f":0.94,"v":0.36},{"f":0.95,"v":0.41},{"f":0.96,"v":0.52},{"f":0.965,"v":0.37},{"f":0.97,"v":0.53},{"f":0.975,"v":0.44},{"f":0.98,"v":0.45},{"f":0.985,"v":0.34},{"f":0.99,"v":0.43},{"f":1,"v":0.38},{"f":1.01,"v":0.4},{"f":1.02,"v":0.34},{"f":1.03,"v":0.3},{"f":1.04,"v":0.28},{"f":1.05,"v":0.25},{"f":1.06,"v":0.22},{"f":1.07,"v":0.18},{"f":1.08,"v":0.17},{"f":1.09,"v":0.14},{"f":1.1,"v":0.13},{"f":1.12,"v":0.1},{"f":1.14,"v":0.09},{"f":1.16,"v":0.08},{"f":0.05,"v":0.03},{"f":0.12,"v":0.05},{"f":0.2,"v":0.08},{"f":0.24,"v":0.04},{"f":0.3,"v":0.02},{"f":0.35,"v":0.05},{"f":0.4,"v":0.02},{"f":0.45,"v":0.04},{"f":0.5,"v":0.01},{"f":0.55,"v":0.03},{"f":0.6,"v":0.02},{"f":0.65,"v":0.04},{"f":0.7,"v":0.01},{"f":0.75,"v":0.03},{"f":0.8,"v":0.02},{"f":0.85,"v":0.05},{"f":0.9,"v":0.04},{"f":0.95,"v":0.1},{"f":1,"v":0.08},{"f":0.97,"v":0.2},{"f":0.99,"v":0.25},{"f":1.02,"v":0.15},{"f":0.37,"v":0.06},{"f":0.43,"v":0.07},{"f":0.49,"v":0.06},{"f":0.53,"v":0.07},{"f":0.59,"v":0.06},{"f":0.63,"v":0.07},{"f":0.69,"v":0.06},{"f":0.73,"v":0.07},{"f":0.79,"v":0.08},{"f":0.83,"v":0.09},{"f":0.87,"v":0.1},{"f":1.2,"v":0.06},{"f":1.25,"v":0.05},{"f":1.3,"v":0.07},{"f":1.35,"v":0.05},{"f":1.4,"v":0.06},{"f":1.45,"v":0.04},{"f":1.5,"v":0.06},{"f":1.55,"v":0.05},{"f":1.6,"v":0.055},{"f":1.65,"v":0.04},{"f":1.7,"v":0.06},{"f":1.75,"v":0.05},{"f":1.8,"v":0.055},{"f":1.85,"v":0.04},{"f":1.9,"v":0.05},{"f":1.95,"v":0.035},{"f":2,"v":0.04},{"f":2.05,"v":0.03},{"f":2.1,"v":0.04},{"f":2.15,"v":0.03},{"f":2.2,"v":0.035},{"f":2.25,"v":0.03},{"f":2.3,"v":0.035},{"f":2.35,"v":0.03},{"f":2.4,"v":0.04},{"f":2.45,"v":0.05},{"f":2.48,"v":0.065},{"f":2.5,"v":0.07},{"f":2.52,"v":0.07},{"f":2.55,"v":0.06},{"f":2.6,"v":0.04},{"f":2.65,"v":0.035},{"f":2.7,"v":0.03},{"f":2.75,"v":0.035},{"f":2.8,"v":0.03},{"f":2.85,"v":0.035},{"f":2.9,"v":0.04},{"f":2.95,"v":0.035},{"f":3,"v":0.045},{"f":3.05,"v":0.05},{"f":3.1,"v":0.05},{"f":3.15,"v":0.06},{"f":3.2,"v":0.065},{"f":3.25,"v":0.075},{"f":3.28,"v":0.07},{"f":3.3,"v":0.06},{"f":3.33,"v":0.05},{"f":3.36,"v":0.04},{"f":3.4,"v":0.03},{"f":3.45,"v":0.02},{"f":3.5,"v":0.015},{"f":3.55,"v":0.02},{"f":3.6,"v":0.015},{"f":3.65,"v":0.01},{"f":3.7,"v":0.015},{"f":3.75,"v":0.01},{"f":3.8,"v":0.015},{"f":3.85,"v":0.01},{"f":3.9,"v":0.015},{"f":3.95,"v":0.01},{"f":4,"v":0.015},{"f":4.05,"v":0.01},{"f":4.1,"v":0.015},{"f":4.15,"v":0.01},{"f":4.2,"v":0.015},{"f":4.25,"v":0.01},{"f":4.3,"v":0.015},{"f":4.35,"v":0.01},{"f":4.4,"v":0.015},{"f":4.45,"v":0.01},{"f":4.5,"v":0.015},{"f":4.55,"v":0.01},{"f":4.6,"v":0.015},{"f":4.65,"v":0.01},{"f":4.7,"v":0.015},{"f":4.75,"v":0.01},{"f":4.8,"v":0.012},{"f":4.85,"v":0.01},{"f":4.9,"v":0.012},{"f":4.95,"v":0.01},{"f":5,"v":0.01},{"f":1.22,"v":0.03},{"f":1.32,"v":0.02},{"f":1.42,"v":0.03},{"f":1.52,"v":0.02},{"f":1.62,"v":0.03},{"f":1.72,"v":0.02},{"f":1.82,"v":0.03},{"f":1.92,"v":0.02},{"f":2.02,"v":0.015},{"f":2.12,"v":0.02},{"f":2.22,"v":0.015},{"f":2.32,"v":0.02},{"f":2.42,"v":0.02},{"f":2.52,"v":0.04},{"f":2.62,"v":0.02},{"f":2.72,"v":0.015},{"f":2.82,"v":0.02},{"f":2.92,"v":0.02},{"f":3.02,"v":0.025},{"f":3.12,"v":0.03},{"f":3.22,"v":0.04},{"f":3.32,"v":0.03},{"f":3.42,"v":0.015}],
"myc": [{"f":0,"v":0},{"f":0.003,"v":0.97},{"f":0.006,"v":0.3},{"f":0.009,"v":0.9},{"f":0.012,"v":0.35},{"f":0.015,"v":0.8},{"f":0.018,"v":0.3},{"f":0.021,"v":0.7},{"f":0.024,"v":0.25},{"f":0.027,"v":0.62},{"f":0.03,"v":0.2},{"f":0.035,"v":0.55},{"f":0.04,"v":0.15},{"f":0.045,"v":0.5},{"f":0.05,"v":0.1},{"f":0.055,"v":0.45},{"f":0.06,"v":0.12},{"f":0.065,"v":0.4},{"f":0.07,"v":0.08},{"f":0.075,"v":0.38},{"f":0.08,"v":0.1},{"f":0.085,"v":0.35},{"f":0.09,"v":0.06},{"f":0.095,"v":0.33},{"f":0.1,"v":0.08},{"f":0.105,"v":0.3},{"f":0.11,"v":0.05},{"f":0.115,"v":0.28},{"f":0.12,"v":0.07},{"f":0.125,"v":0.27},{"f":0.13,"v":0.04},{"f":0.135,"v":0.25},{"f":0.14,"v":0.06},{"f":0.145,"v":0.23},{"f":0.15,"v":0.05},{"f":0.155,"v":0.22},{"f":0.16,"v":0.07},{"f":0.165,"v":0.2},{"f":0.17,"v":0.04},{"f":0.175,"v":0.19},{"f":0.18,"v":0.06},{"f":0.185,"v":0.18},{"f":0.19,"v":0.03},{"f":0.195,"v":0.17},{"f":0.2,"v":0.05},{"f":0.205,"v":0.16},{"f":0.21,"v":0.04},{"f":0.215,"v":0.15},{"f":0.22,"v":0.03},{"f":0.225,"v":0.14},{"f":0.23,"v":0.05},{"f":0.235,"v":0.13},{"f":0.24,"v":0.02},{"f":0.245,"v":0.14},{"f":0.25,"v":0.04},{"f":0.255,"v":0.12},{"f":0.26,"v":0.03},{"f":0.265,"v":0.13},{"f":0.27,"v":0.05},{"f":0.275,"v":0.15},{"f":0.28,"v":0.04},{"f":0.285,"v":0.2},{"f":0.288,"v":1},{"f":0.291,"v":0.05},{"f":0.295,"v":0.14},{"f":0.3,"v":0.03},{"f":0.31,"v":0.13},{"f":0.32,"v":0.02},{"f":0.33,"v":0.12},{"f":0.34,"v":0.03},{"f":0.35,"v":0.11},{"f":0.36,"v":0.02},{"f":0.37,"v":0.1},{"f":0.38,"v":0.03},{"f":0.39,"v":0.09},{"f":0.4,"v":0.02},{"f":0.41,"v":0.1},{"f":0.42,"v":0.03},{"f":0.43,"v":0.08},{"f":0.44,"v":0.02},{"f":0.45,"v":0.09},{"f":0.46,"v":0.03},{"f":0.47,"v":0.1},{"f":0.48,"v":0.02},{"f":0.49,"v":0.08},{"f":0.5,"v":0.03},{"f":0.51,"v":0.1},{"f":0.52,"v":0.02},{"f":0.53,"v":0.09},{"f":0.54,"v":0.03},{"f":0.55,"v":0.11},{"f":0.56,"v":0.02},{"f":0.57,"v":0.1},{"f":0.58,"v":0.03},{"f":0.59,"v":0.12},{"f":0.6,"v":0.02},{"f":0.61,"v":0.1},{"f":0.62,"v":0.03},{"f":0.63,"v":0.11},{"f":0.64,"v":0.02},{"f":0.65,"v":0.1},{"f":0.66,"v":0.03},{"f":0.67,"v":0.12},{"f":0.68,"v":0.02},{"f":0.69,"v":0.1},{"f":0.7,"v":0.03},{"f":0.71,"v":0.11},{"f":0.72,"v":0.04},{"f":0.73,"v":0.12},{"f":0.74,"v":0.03},{"f":0.75,"v":0.13},{"f":0.76,"v":0.04},{"f":0.77,"v":0.12},{"f":0.78,"v":0.05},{"f":0.79,"v":0.14},{"f":0.8,"v":0.04},{"f":0.81,"v":0.13},{"f":0.82,"v":0.06},{"f":0.83,"v":0.15},{"f":0.84,"v":0.05},{"f":0.85,"v":0.16},{"f":0.86,"v":0.07},{"f":0.87,"v":0.18},{"f":0.88,"v":0.08},{"f":0.89,"v":0.2},{"f":0.9,"v":0.1},{"f":0.91,"v":0.24},{"f":0.92,"v":0.12},{"f":0.93,"v":0.28},{"f":0.94,"v":0.15},{"f":0.95,"v":0.32},{"f":0.96,"v":0.18},{"f":0.97,"v":0.36},{"f":0.98,"v":0.2},{"f":0.99,"v":0.38},{"f":1,"v":0.15},{"f":1.01,"v":0.3},{"f":1.02,"v":0.1},{"f":1.03,"v":0.22},{"f":1.04,"v":0.06},{"f":1.05,"v":0.15},{"f":1.06,"v":0.04},{"f":1.07,"v":0.1},{"f":1.08,"v":0.03},{"f":1.1,"v":0.06},{"f":1.12,"v":0.02},{"f":1.14,"v":0.045},{"f":1.16,"v":0.015},{"f":1.18,"v":0.04},{"f":1.2,"v":0.01},{"f":1.23,"v":0.035},{"f":1.26,"v":0.01},{"f":1.29,"v":0.03},{"f":1.32,"v":0.01},{"f":1.35,"v":0.03},{"f":1.38,"v":0.005},{"f":1.41,"v":0.025},{"f":1.44,"v":0.005},{"f":1.47,"v":0.025},{"f":1.5,"v":0.005},{"f":1.53,"v":0.025},{"f":1.56,"v":0.01},{"f":1.59,"v":0.025},{"f":1.62,"v":0.005},{"f":1.65,"v":0.03},{"f":1.68,"v":0.01},{"f":1.71,"v":0.03},{"f":1.74,"v":0.01},{"f":1.77,"v":0.035},{"f":1.8,"v":0.01},{"f":1.83,"v":0.03},{"f":1.86,"v":0.005},{"f":1.89,"v":0.025},{"f":1.92,"v":0.005},{"f":1.95,"v":0.02},{"f":1.98,"v":0.005},{"f":2.01,"v":0.02},{"f":2.04,"v":0.005},{"f":2.07,"v":0.02},{"f":2.1,"v":0.005},{"f":2.13,"v":0.015},{"f":2.16,"v":0.005},{"f":2.19,"v":0.015},{"f":2.22,"v":0.005},{"f":2.25,"v":0.02},{"f":2.28,"v":0.005},{"f":2.31,"v":0.02},{"f":2.34,"v":0.005},{"f":2.37,"v":0.025},{"f":2.4,"v":0.01},{"f":2.43,"v":0.03},{"f":2.46,"v":0.015},{"f":2.48,"v":0.045},{"f":2.5,"v":0.02},{"f":2.52,"v":0.05},{"f":2.54,"v":0.015},{"f":2.56,"v":0.03},{"f":2.59,"v":0.005},{"f":2.62,"v":0.02},{"f":2.65,"v":0.005},{"f":2.68,"v":0.015},{"f":2.71,"v":0.005},{"f":2.74,"v":0.02},{"f":2.77,"v":0.005},{"f":2.8,"v":0.02},{"f":2.83,"v":0.005},{"f":2.86,"v":0.02},{"f":2.89,"v":0.01},{"f":2.92,"v":0.025},{"f":2.95,"v":0.01},{"f":2.98,"v":0.03},{"f":3.01,"v":0.01},{"f":3.04,"v":0.035},{"f":3.07,"v":0.015},{"f":3.1,"v":0.04},{"f":3.13,"v":0.02},{"f":3.16,"v":0.045},{"f":3.19,"v":0.02},{"f":3.22,"v":0.05},{"f":3.25,"v":0.02},{"f":3.28,"v":0.045},{"f":3.31,"v":0.01},{"f":3.34,"v":0.02},{"f":3.37,"v":0.005},{"f":3.4,"v":0.01},{"f":3.5,"v":0.003},{"f":4,"v":0.003},{"f":4.5,"v":0.003},{"f":5,"v":0.002}],
"fzm": [{"f":0,"v":0},{"f":0,"v":0.16},{"f":0.005,"v":0.14},{"f":0.01,"v":0.12},{"f":0.015,"v":0.1},{"f":0.02,"v":0.13},{"f":0.03,"v":0.09},{"f":0.04,"v":0.1},{"f":0.05,"v":0.07},{"f":0.06,"v":0.08},{"f":0.07,"v":0.06},{"f":0.08,"v":0.07},{"f":0.09,"v":0.05},{"f":0.1,"v":0.06},{"f":0.12,"v":0.05},{"f":0.14,"v":0.06},{"f":0.16,"v":0.05},{"f":0.18,"v":0.04},{"f":0.2,"v":0.05},{"f":0.22,"v":0.04},{"f":0.24,"v":0.05},{"f":0.26,"v":0.06},{"f":0.27,"v":0.1},{"f":0.28,"v":0.13},{"f":0.285,"v":0.21},{"f":0.29,"v":0.25},{"f":0.292,"v":0.32},{"f":0.295,"v":0.36},{"f":0.3,"v":0.8},{"f":0.302,"v":0.25},{"f":0.305,"v":0.13},{"f":0.31,"v":0.1},{"f":0.32,"v":0.06},{"f":0.34,"v":0.05},{"f":0.02,"v":0.02},{"f":0.06,"v":0.01},{"f":0.1,"v":0.02},{"f":0.15,"v":0.01},{"f":0.2,"v":0.02},{"f":0.25,"v":0.01},{"f":0.3,"v":0.01},{"f":0.03,"v":0.05},{"f":0.08,"v":0.035},{"f":0.13,"v":0.03},{"f":0.17,"v":0.025},{"f":0.23,"v":0.03},{"f":0.27,"v":0.03},{"f":0.36,"v":0.04},{"f":0.38,"v":0.045},{"f":0.4,"v":0.04},{"f":0.42,"v":0.05},{"f":0.44,"v":0.045},{"f":0.46,"v":0.04},{"f":0.48,"v":0.045},{"f":0.5,"v":0.04},{"f":0.52,"v":0.045},{"f":0.54,"v":0.04},{"f":0.56,"v":0.05},{"f":0.58,"v":0.04},{"f":0.6,"v":0.045},{"f":0.62,"v":0.04},{"f":0.64,"v":0.045},{"f":0.66,"v":0.04},{"f":0.68,"v":0.05},{"f":0.7,"v":0.045},{"f":0.72,"v":0.05},{"f":0.74,"v":0.06},{"f":0.76,"v":0.07},{"f":0.78,"v":0.065},{"f":0.8,"v":0.05},{"f":0.82,"v":0.04},{"f":0.84,"v":0.045},{"f":0.86,"v":0.05},{"f":0.88,"v":0.045},{"f":0.9,"v":0.05},{"f":0.92,"v":0.06},{"f":0.94,"v":0.08},{"f":0.96,"v":0.085},{"f":0.98,"v":0.07},{"f":1,"v":0.06},{"f":1.02,"v":0.05},{"f":1.04,"v":0.055},{"f":1.06,"v":0.04},{"f":1.08,"v":0.035},{"f":1.1,"v":0.03},{"f":1.12,"v":0.025},{"f":1.15,"v":0.02},{"f":0.4,"v":0.015},{"f":0.45,"v":0.02},{"f":0.5,"v":0.01},{"f":0.55,"v":0.02},{"f":0.6,"v":0.015},{"f":0.65,"v":0.02},{"f":0.7,"v":0.01},{"f":0.75,"v":0.025},{"f":0.8,"v":0.02},{"f":0.85,"v":0.015},{"f":0.9,"v":0.02},{"f":0.95,"v":0.03},{"f":1,"v":0.025},{"f":1.05,"v":0.02},{"f":0.37,"v":0.03},{"f":0.47,"v":0.03},{"f":0.57,"v":0.03},{"f":0.67,"v":0.03},{"f":0.77,"v":0.04},{"f":0.87,"v":0.03},{"f":0.97,"v":0.045},{"f":0.39,"v":0.025},{"f":0.43,"v":0.035},{"f":0.49,"v":0.025},{"f":0.53,"v":0.035},{"f":0.59,"v":0.025},{"f":0.63,"v":0.035},{"f":0.69,"v":0.025},{"f":0.73,"v":0.035},{"f":0.79,"v":0.045},{"f":0.83,"v":0.025},{"f":0.89,"v":0.035},{"f":0.93,"v":0.04},{"f":1.2,"v":0.02},{"f":1.25,"v":0.012},{"f":1.3,"v":0.02},{"f":1.35,"v":0.012},{"f":1.4,"v":0.018},{"f":1.45,"v":0.012},{"f":1.5,"v":0.02},{"f":1.55,"v":0.012},{"f":1.6,"v":0.018},{"f":1.65,"v":0.012},{"f":1.7,"v":0.02},{"f":1.75,"v":0.012},{"f":1.8,"v":0.018},{"f":1.85,"v":0.012},{"f":1.9,"v":0.02},{"f":1.95,"v":0.012},{"f":2,"v":0.018},{"f":2.05,"v":0.01},{"f":2.1,"v":0.018},{"f":2.15,"v":0.01},{"f":2.2,"v":0.016},{"f":2.25,"v":0.01},{"f":2.3,"v":0.018},{"f":2.35,"v":0.01},{"f":2.4,"v":0.016},{"f":2.45,"v":0.012},{"f":2.5,"v":0.018},{"f":2.55,"v":0.012},{"f":2.6,"v":0.016},{"f":2.65,"v":0.012},{"f":2.7,"v":0.018},{"f":2.75,"v":0.012},{"f":2.8,"v":0.018},{"f":2.85,"v":0.014},{"f":2.9,"v":0.02},{"f":2.95,"v":0.022},{"f":3,"v":0.028},{"f":3.05,"v":0.03},{"f":3.1,"v":0.025},{"f":3.15,"v":0.028},{"f":3.2,"v":0.035},{"f":3.25,"v":0.025},{"f":3.3,"v":0.02},{"f":3.35,"v":0.015},{"f":3.4,"v":0.012},{"f":3.45,"v":0.015},{"f":3.5,"v":0.01},{"f":3.55,"v":0.014},{"f":3.6,"v":0.01},{"f":3.65,"v":0.014},{"f":3.7,"v":0.01},{"f":3.75,"v":0.014},{"f":3.8,"v":0.01},{"f":3.85,"v":0.014},{"f":3.9,"v":0.01},{"f":3.95,"v":0.014},{"f":4,"v":0.01},{"f":4.05,"v":0.014},{"f":4.1,"v":0.01},{"f":4.15,"v":0.014},{"f":4.2,"v":0.01},{"f":4.25,"v":0.014},{"f":4.3,"v":0.01},{"f":4.35,"v":0.014},{"f":4.4,"v":0.01},{"f":4.45,"v":0.014},{"f":4.5,"v":0.01},{"f":4.55,"v":0.014},{"f":4.6,"v":0.01},{"f":4.65,"v":0.014},{"f":4.7,"v":0.01},{"f":4.75,"v":0.012},{"f":4.8,"v":0.01},{"f":4.85,"v":0.012},{"f":4.9,"v":0.008},{"f":4.95,"v":0.01},{"f":5,"v":0.008},{"f":3.02,"v":0.015},{"f":3.12,"v":0.015},{"f":3.22,"v":0.018}],
"fzc": [{"f":0,"v":0},{"f":0.003,"v":0.12},{"f":0.006,"v":0.02},{"f":0.009,"v":0.1},{"f":0.012,"v":0.03},{"f":0.015,"v":0.11},{"f":0.018,"v":0.02},{"f":0.021,"v":0.09},{"f":0.024,"v":0.03},{"f":0.027,"v":0.08},{"f":0.03,"v":0.02},{"f":0.035,"v":0.07},{"f":0.04,"v":0.02},{"f":0.045,"v":0.08},{"f":0.05,"v":0.03},{"f":0.055,"v":0.06},{"f":0.06,"v":0.02},{"f":0.065,"v":0.07},{"f":0.07,"v":0.03},{"f":0.075,"v":0.05},{"f":0.08,"v":0.02},{"f":0.085,"v":0.06},{"f":0.09,"v":0.02},{"f":0.095,"v":0.05},{"f":0.1,"v":0.03},{"f":0.11,"v":0.05},{"f":0.12,"v":0.02},{"f":0.13,"v":0.04},{"f":0.14,"v":0.02},{"f":0.15,"v":0.05},{"f":0.16,"v":0.02},{"f":0.17,"v":0.04},{"f":0.18,"v":0.03},{"f":0.19,"v":0.05},{"f":0.2,"v":0.02},{"f":0.21,"v":0.04},{"f":0.22,"v":0.02},{"f":0.23,"v":0.05},{"f":0.24,"v":0.03},{"f":0.25,"v":0.05},{"f":0.26,"v":0.04},{"f":0.27,"v":0.08},{"f":0.28,"v":0.06},{"f":0.285,"v":0.15},{"f":0.29,"v":0.1},{"f":0.295,"v":1},{"f":0.298,"v":0.2},{"f":0.302,"v":0.12},{"f":0.31,"v":0.04},{"f":0.32,"v":0.02},{"f":0.34,"v":0.015},{"f":0.4,"v":0.01},{"f":0.5,"v":0.012},{"f":0.6,"v":0.01},{"f":0.7,"v":0.012},{"f":0.8,"v":0.01},{"f":0.9,"v":0.015},{"f":0.95,"v":0.025},{"f":1,"v":0.04},{"f":1.02,"v":0.06},{"f":1.04,"v":0.04},{"f":1.06,"v":0.03},{"f":1.1,"v":0.015},{"f":1.2,"v":0.008},{"f":1.5,"v":0.005},{"f":2,"v":0.005},{"f":2.5,"v":0.01},{"f":2.8,"v":0.008},{"f":3,"v":0.015},{"f":3.05,"v":0.02},{"f":3.1,"v":0.018},{"f":3.2,"v":0.01},{"f":3.5,"v":0.004},{"f":4,"v":0.003},{"f":5,"v":0.002}]
},
"concat": [
{"width": 423, "height": 251, "resolve": {"axis": {"x": "independent", "y": "independent"}},
 "layer": [
  {"data": {"name": "fxm"}, "mark": {"type": "point", "filled": false, "strokeWidth": 1.6, "size": 900, "opacity": 1},
   "encoding": {
    "x": {"field": "f", "type": "quantitative", "scale": {"domain": [0, 5], "nice": false, "zero": false}, "axis": {"title": "Frequency [Hz]", "orient": "bottom", "format": "~g"}},
    "y": {"field": "v", "type": "quantitative", "scale": {"domain": [0, 1], "nice": false}, "axis": {"title": "Normalized Fx [-]", "orient": "left", "format": "~g"}},
    "color": {"datum": "Measured", "type": "nominal", "title": null, "scale": {"domain": ["Measured", "Commanded"], "range": ["#0000ee", "#ff0000"]}},
    "shape": {"datum": "Measured", "type": "nominal", "title": null, "scale": {"domain": ["Measured", "Commanded"], "range": ["M-0.15,0A0.15,0.15,0,1,0,0.15,0A0.15,0.15,0,1,0,-0.15,0M-0.07,0A0.07,0.07,0,1,0,0.07,0A0.07,0.07,0,1,0,-0.07,0", "M-1.75,0L1.75,0"]}}
   }},
  {"data": {"name": "fxc"}, "mark": {"type": "line", "color": "#ff0000", "strokeWidth": 1.3},
   "encoding": {
    "x": {"field": "f", "type": "quantitative", "axis": {"orient": "top", "labels": false, "title": null}},
    "y": {"field": "v", "type": "quantitative", "axis": {"orient": "right", "labels": false, "title": null}}
   }}
 ]},
{"width": 423, "height": 251, "resolve": {"axis": {"x": "independent", "y": "independent"}},
 "layer": [
  {"data": {"name": "mxm"}, "mark": {"type": "point", "filled": false, "strokeWidth": 1.6, "size": 900, "opacity": 1},
   "encoding": {
    "x": {"field": "f", "type": "quantitative", "scale": {"domain": [0, 5], "nice": false, "zero": false}, "axis": {"title": "Frequency [Hz]", "orient": "bottom", "format": "~g"}},
    "y": {"field": "v", "type": "quantitative", "scale": {"domain": [0, 1], "nice": false}, "axis": {"title": "Normalized Mx [-]", "orient": "left", "format": "~g"}},
    "color": {"datum": "Measured", "type": "nominal", "title": null, "scale": {"domain": ["Measured", "Commanded"], "range": ["#0000ee", "#ff0000"]}},
    "shape": {"datum": "Measured", "type": "nominal", "title": null, "scale": {"domain": ["Measured", "Commanded"], "range": ["M-0.15,0A0.15,0.15,0,1,0,0.15,0A0.15,0.15,0,1,0,-0.15,0M-0.07,0A0.07,0.07,0,1,0,0.07,0A0.07,0.07,0,1,0,-0.07,0", "M-1.75,0L1.75,0"]}}
   }},
  {"data": {"name": "mxc"}, "mark": {"type": "line", "color": "#ff0000", "strokeWidth": 1.3},
   "encoding": {
    "x": {"field": "f", "type": "quantitative", "axis": {"orient": "top", "labels": false, "title": null}},
    "y": {"field": "v", "type": "quantitative", "axis": {"orient": "right", "labels": false, "title": null}}
   }}
 ]},
{"width": 423, "height": 251, "resolve": {"axis": {"x": "independent", "y": "independent"}},
 "layer": [
  {"data": {"name": "fym"}, "mark": {"type": "point", "filled": false, "strokeWidth": 1.6, "size": 900, "opacity": 1},
   "encoding": {
    "x": {"field": "f", "type": "quantitative", "scale": {"domain": [0, 5], "nice": false, "zero": false}, "axis": {"title": "Frequency [Hz]", "orient": "bottom", "format": "~g"}},
    "y": {"field": "v", "type": "quantitative", "scale": {"domain": [0, 1], "nice": false}, "axis": {"title": "Normalized Fy [-]", "orient": "left", "format": "~g"}},
    "color": {"datum": "Measured", "type": "nominal", "title": null, "scale": {"domain": ["Measured", "Commanded"], "range": ["#0000ee", "#ff0000"]}},
    "shape": {"datum": "Measured", "type": "nominal", "title": null, "scale": {"domain": ["Measured", "Commanded"], "range": ["M-0.15,0A0.15,0.15,0,1,0,0.15,0A0.15,0.15,0,1,0,-0.15,0M-0.07,0A0.07,0.07,0,1,0,0.07,0A0.07,0.07,0,1,0,-0.07,0", "M-1.75,0L1.75,0"]}}
   }},
  {"data": {"name": "fyc"}, "mark": {"type": "line", "color": "#ff0000", "strokeWidth": 1.3},
   "encoding": {
    "x": {"field": "f", "type": "quantitative", "axis": {"orient": "top", "labels": false, "title": null}},
    "y": {"field": "v", "type": "quantitative", "axis": {"orient": "right", "labels": false, "title": null}}
   }}
 ]},
{"width": 423, "height": 251, "resolve": {"axis": {"x": "independent", "y": "independent"}},
 "layer": [
  {"data": {"name": "mym"}, "mark": {"type": "point", "filled": false, "strokeWidth": 1.6, "size": 900, "opacity": 1},
   "encoding": {
    "x": {"field": "f", "type": "quantitative", "scale": {"domain": [0, 5], "nice": false, "zero": false}, "axis": {"title": "Frequency [Hz]", "orient": "bottom", "format": "~g"}},
    "y": {"field": "v", "type": "quantitative", "scale": {"domain": [0, 1], "nice": false}, "axis": {"title": "Normalized My [-]", "orient": "left", "format": "~g"}},
    "color": {"datum": "Measured", "type": "nominal", "title": null, "scale": {"domain": ["Measured", "Commanded"], "range": ["#0000ee", "#ff0000"]}},
    "shape": {"datum": "Measured", "type": "nominal", "title": null, "scale": {"domain": ["Measured", "Commanded"], "range": ["M-0.15,0A0.15,0.15,0,1,0,0.15,0A0.15,0.15,0,1,0,-0.15,0M-0.07,0A0.07,0.07,0,1,0,0.07,0A0.07,0.07,0,1,0,-0.07,0", "M-1.75,0L1.75,0"]}}
   }},
  {"data": {"name": "myc"}, "mark": {"type": "line", "color": "#ff0000", "strokeWidth": 1.3},
   "encoding": {
    "x": {"field": "f", "type": "quantitative", "axis": {"orient": "top", "labels": false, "title": null}},
    "y": {"field": "v", "type": "quantitative", "axis": {"orient": "right", "labels": false, "title": null}}
   }}
 ]},
{"width": 423, "height": 251, "resolve": {"axis": {"x": "independent", "y": "independent"}},
 "layer": [
  {"data": {"name": "fzm"}, "mark": {"type": "point", "filled": false, "strokeWidth": 1.6, "size": 900, "opacity": 1},
   "encoding": {
    "x": {"field": "f", "type": "quantitative", "scale": {"domain": [0, 5], "nice": false, "zero": false}, "axis": {"title": "Frequency [Hz]", "orient": "bottom", "format": "~g"}},
    "y": {"field": "v", "type": "quantitative", "scale": {"domain": [0, 1], "nice": false}, "axis": {"title": "Normalized Fz [-]", "orient": "left", "format": "~g"}},
    "color": {"datum": "Measured", "type": "nominal", "title": null, "scale": {"domain": ["Measured", "Commanded"], "range": ["#0000ee", "#ff0000"]}},
    "shape": {"datum": "Measured", "type": "nominal", "title": null, "scale": {"domain": ["Measured", "Commanded"], "range": ["M-0.15,0A0.15,0.15,0,1,0,0.15,0A0.15,0.15,0,1,0,-0.15,0M-0.07,0A0.07,0.07,0,1,0,0.07,0A0.07,0.07,0,1,0,-0.07,0", "M-1.75,0L1.75,0"]}}
   }},
  {"data": {"name": "fzc"}, "mark": {"type": "line", "color": "#ff0000", "strokeWidth": 1.3},
   "encoding": {
    "x": {"field": "f", "type": "quantitative", "axis": {"orient": "top", "labels": false, "title": null}},
    "y": {"field": "v", "type": "quantitative", "axis": {"orient": "right", "labels": false, "title": null}}
   }}
 ]},
{"width": 423, "height": 251, "resolve": {"axis": {"x": "independent", "y": "independent"}},
 "layer": [
  {"data": {"values": []}, "mark": {"type": "point", "filled": false, "strokeWidth": 1.6, "size": 900, "opacity": 1},
   "encoding": {
    "x": {"field": "f", "type": "quantitative", "scale": {"domain": [0, 5], "nice": false, "zero": false}, "axis": {"title": "Frequency [Hz]", "orient": "bottom", "format": "~g"}},
    "y": {"field": "v", "type": "quantitative", "scale": {"domain": [0, 1], "nice": false}, "axis": {"title": "Normalized LSrpm [-]", "orient": "left", "format": "~g"}},
    "color": {"datum": "Measured", "type": "nominal", "title": null, "scale": {"domain": ["Measured", "Commanded"], "range": ["#0000ee", "#ff0000"]}},
    "shape": {"datum": "Measured", "type": "nominal", "title": null, "scale": {"domain": ["Measured", "Commanded"], "range": ["M-0.15,0A0.15,0.15,0,1,0,0.15,0A0.15,0.15,0,1,0,-0.15,0M-0.07,0A0.07,0.07,0,1,0,0.07,0A0.07,0.07,0,1,0,-0.07,0", "M-1.75,0L1.75,0"]}}
   }},
  {"data": {"values": []}, "mark": {"type": "line", "color": "#ff0000", "strokeWidth": 1.3},
   "encoding": {
    "x": {"field": "f", "type": "quantitative", "axis": {"orient": "top", "labels": false, "title": null}},
    "y": {"field": "v", "type": "quantitative", "axis": {"orient": "right", "labels": false, "title": null}}
   }}
 ]}
]
}
